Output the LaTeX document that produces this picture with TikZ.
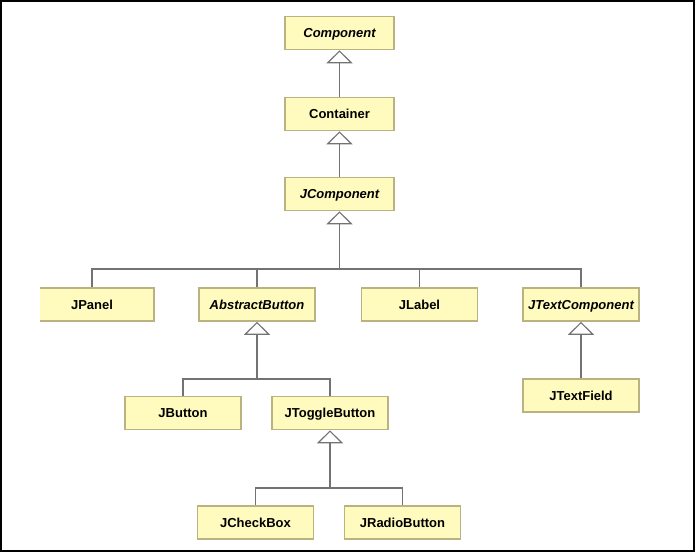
\documentclass[tikz,border=0pt]{standalone}
\usepackage{fontspec}
\setmainfont{Liberation Sans}
\usetikzlibrary{arrows.meta}
\definecolor{boxfill}{RGB}{255,250,190}
\definecolor{boxline}{RGB}{186,178,128}
\definecolor{conn}{RGB}{115,115,115}
\tikzset{
  cls/.style={draw=boxline, fill=boxfill, line width=1.6pt, inner sep=0pt,
    minimum height=33pt, text height=9.4pt, text depth=0pt,
    font=\fontsize{13pt}{15pt}\selectfont\bfseries},
  wide/.style={minimum width=116pt},
  narrow/.style={minimum width=109pt},
  abs/.style={font=\fontsize{13pt}{15pt}\selectfont\bfseries\itshape},
  link/.style={draw=conn, line width=1.2pt},
  gen/.style={link, -{Triangle[open, width=26pt, length=13pt, fill=white]}},
}
\begin{document}
\begin{tikzpicture}[x=1pt,y=-1pt]
\useasboundingbox (0,0) rectangle (697,553);
\draw[line width=2pt] (1,1) rectangle (694,551);

% top chain
\node[cls, narrow, abs] (comp) at (339.5,33) {Component};
\node[cls, narrow] (cont) at (339.5,114) {Container};
\node[cls, narrow, abs] (jcomp) at (339.5,194) {JComponent};

% row 2
\begin{scope}
\clip (40,0) rectangle (697,553);
\node[cls, minimum width=124pt] (jpanel) at (92,304.5) {JPanel};
\end{scope}
\node[cls, wide, abs] (abtn) at (257,304.5) {AbstractButton};
\node[cls, wide] (jlabel) at (419.5,304.5) {JLabel};
\node[cls, wide, abs] (jtc) at (581,304.5) {JTextComponent};

% row 3
\node[cls, wide] (jbtn) at (183,413) {JButton};
\node[cls, wide] (jtog) at (330,413) {JToggleButton};
\node[cls, wide] (jtf) at (581,395.5) {JTextField};

% row 4
\node[cls, wide] (jcb) at (255.5,522.5) {JCheckBox};
\node[cls, wide] (jrb) at (402.5,522.5) {JRadioButton};

% connectors
\draw[gen] (cont) -- (comp);
\draw[gen] (jcomp) -- (cont);

\coordinate (b1) at (339.5,269);
\draw[gen] (b1) -- (jcomp);
\draw[link] (jpanel.north) |- (b1) -| (jtc.north);
\draw[link] (abtn.north) -- (abtn.north |- b1);
\draw[link] (jlabel.north) -- (jlabel.north |- b1);

\coordinate (b2) at (257,379);
\draw[gen] (b2) -- (abtn);
\draw[link] (jbtn.north) |- (b2) -| (jtog.north);

\draw[gen] (jtf) -- (jtc);

\coordinate (b3) at (330,488);
\draw[gen] (b3) -- (jtog);
\draw[link] (jcb.north) |- (b3) -| (jrb.north);
\end{tikzpicture}
\end{document}
